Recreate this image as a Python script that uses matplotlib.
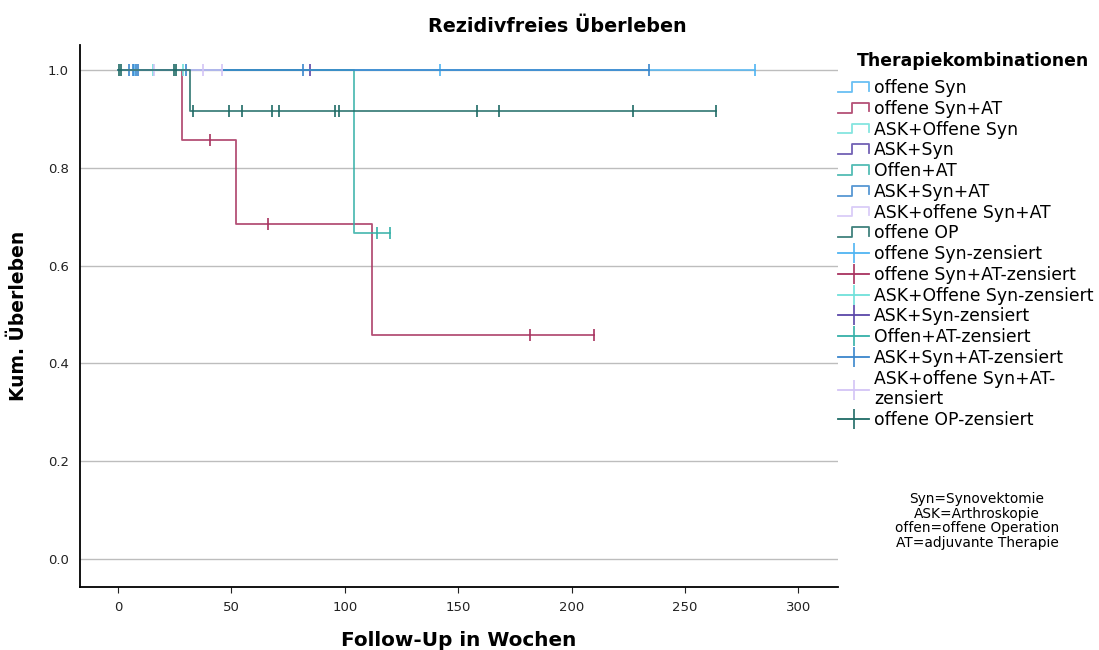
import numpy as np
import matplotlib
matplotlib.use("Agg")
from matplotlib import pyplot as plt
from matplotlib.lines import Line2D
from matplotlib.legend_handler import HandlerBase

# groups (legend order)
groups = ["offene Syn", "offene Syn+AT", "ASK+Offene Syn", "ASK+Syn",
          "Offen+AT", "ASK+Syn+AT", "ASK+offene Syn+AT", "offene OP"]
colors = ["#4fb4f2", "#a8325f", "#6fe0da", "#5a46a8",
          "#35b0a8", "#3a86cc", "#d3c4f6", "#1f6b66"]

# follow-up in weeks: recurrences (events) and censored cases
offene_syn_ev = []
offene_syn_cens = [7, 142, 281]
offene_syn_at_ev = [28.2, 52, 112]
offene_syn_at_cens = [40.5, 66, 181.5, 209.7]
ask_offene_syn_ev = []
ask_offene_syn_cens = [15.5, 28.5]
ask_syn_ev = []
ask_syn_cens = [84.5]
offen_at_ev = [104]
offen_at_cens = [114, 120]
ask_syn_at_ev = []
ask_syn_at_cens = [5, 6.5, 8, 9, 30, 81.5, 234]
ask_offene_syn_at_ev = []
ask_offene_syn_at_cens = [16, 37.5, 46]
offene_op_ev = [31.7]
offene_op_cens = [0.5, 1.5, 24.5, 25.5, 33, 49, 54.5, 68, 71, 95.5, 97.5,
                  158.5, 168, 227, 263.5]

events = [offene_syn_ev, offene_syn_at_ev, ask_offene_syn_ev, ask_syn_ev,
          offen_at_ev, ask_syn_at_ev, ask_offene_syn_at_ev, offene_op_ev]
censored = [offene_syn_cens, offene_syn_at_cens, ask_offene_syn_cens, ask_syn_cens,
            offen_at_cens, ask_syn_at_cens, ask_offene_syn_at_cens, offene_op_cens]


def kaplan_meier(ev, cens):
    all_t = np.array(sorted(ev + cens))
    s = 1.0
    xs, ys = [0.0], [1.0]
    cx, cy = [], []
    for t in np.unique(all_t):
        d = ev.count(t)
        c = cens.count(t)
        at_risk = np.sum(all_t >= t)
        if d:
            s *= 1 - d / at_risk
            xs.append(t)
            ys.append(s)
        if c:
            cx += [t] * c
            cy += [s] * c
    xs.append(all_t.max())
    ys.append(s)
    return xs, ys, cx, cy


class StepHandler(HandlerBase):
    def create_artists(self, legend, orig_handle, xdescent, ydescent,
                       width, height, fontsize, trans):
        x0 = -xdescent
        lo = -ydescent + 0.1 * height
        hi = -ydescent + 0.9 * height
        xs = [x0, x0 + 0.45 * width, x0 + 0.45 * width, x0 + width, x0 + width]
        ys = [lo, lo, hi, hi, lo + 0.1 * height]
        line = Line2D(xs, ys, color=orig_handle.get_color(), lw=1.3, alpha=0.85)
        line.set_transform(trans)
        return [line]


class StepProxy(Line2D):
    pass


fig = plt.figure(figsize=(10.99, 6.5), dpi=100)
ax = fig.add_axes([80 / 1099, 63 / 650, 758 / 1099, 542 / 650])

for i, (ev, cens) in enumerate(zip(events, censored)):
    xs, ys, cx, cy = kaplan_meier(ev, cens)
    ax.plot(xs, ys, drawstyle="steps-post", color=colors[i], lw=1.3,
            alpha=0.85, zorder=3 + i)
    ax.plot(cx, cy, ls="none", marker="|", ms=8, mew=1.2, color=colors[i],
            zorder=3 + i)

ax.set_xlim(-16.8, 317.5)
ax.set_ylim(-0.057, 1.051)
ax.set_xticks([0, 50, 100, 150, 200, 250, 300])
ax.set_yticks([0.0, 0.2, 0.4, 0.6, 0.8, 1.0])
ax.set_yticklabels(["0.0", "0.2", "0.4", "0.6", "0.8", "1.0"])
ax.yaxis.grid(True, color="#bdbdbd", lw=1.0)
ax.set_axisbelow(True)
for side in ["top", "right"]:
    ax.spines[side].set_visible(False)
for side in ["left", "bottom"]:
    ax.spines[side].set_linewidth(1.3)
ax.tick_params(axis="y", length=0, pad=8, labelsize=9.5, colors="#222222")
ax.tick_params(axis="x", length=4, pad=6, labelsize=9.5, colors="#222222")

ax.set_xlabel("Follow-Up in Wochen", fontsize=14.4, fontweight="bold", labelpad=12)
ax.set_ylabel("Kum. Überleben", fontsize=13.5, fontweight="bold", labelpad=14)
fig.text(557 / 1099, 1 - 27 / 650, "Rezidivfreies Überleben", ha="center",
         va="center", fontsize=13.8, fontweight="bold")

handles = []
labels = []
hmap = {}
for i, g in enumerate(groups):
    h = StepProxy([], [], color=colors[i])
    handles.append(h)
    labels.append(g)
hmap[StepProxy] = StepHandler()
for i, g in enumerate(groups):
    h = Line2D([], [], color=colors[i], lw=1.3, marker="|", ms=14, mew=1.2)
    handles.append(h)
    lab = g + "-zensiert"
    if g == "ASK+offene Syn+AT":
        lab = "ASK+offene Syn+AT-\nzensiert"
    labels.append(lab)

fig.text(973 / 1099, 1 - 61 / 650, "Therapiekombinationen", ha="center",
         va="center", fontsize=12.4, fontweight="bold")
leg = fig.legend(handles, labels, handler_map=hmap, loc="upper left",
                 bbox_to_anchor=(838 / 1099, 1 - 79 / 650), frameon=False,
                 fontsize=12.4, handlelength=1.8, handletextpad=0.28,
                 labelspacing=0.16, borderpad=0, borderaxespad=0)

fig.text(977 / 1099, 1 - 521 / 650,
         "Syn=Synovektomie\nASK=Arthroskopie\noffen=offene Operation\nAT=adjuvante Therapie",
         ha="center", va="center", fontsize=9.9, linespacing=1.05)

fig.savefig("out.png", dpi=100)
